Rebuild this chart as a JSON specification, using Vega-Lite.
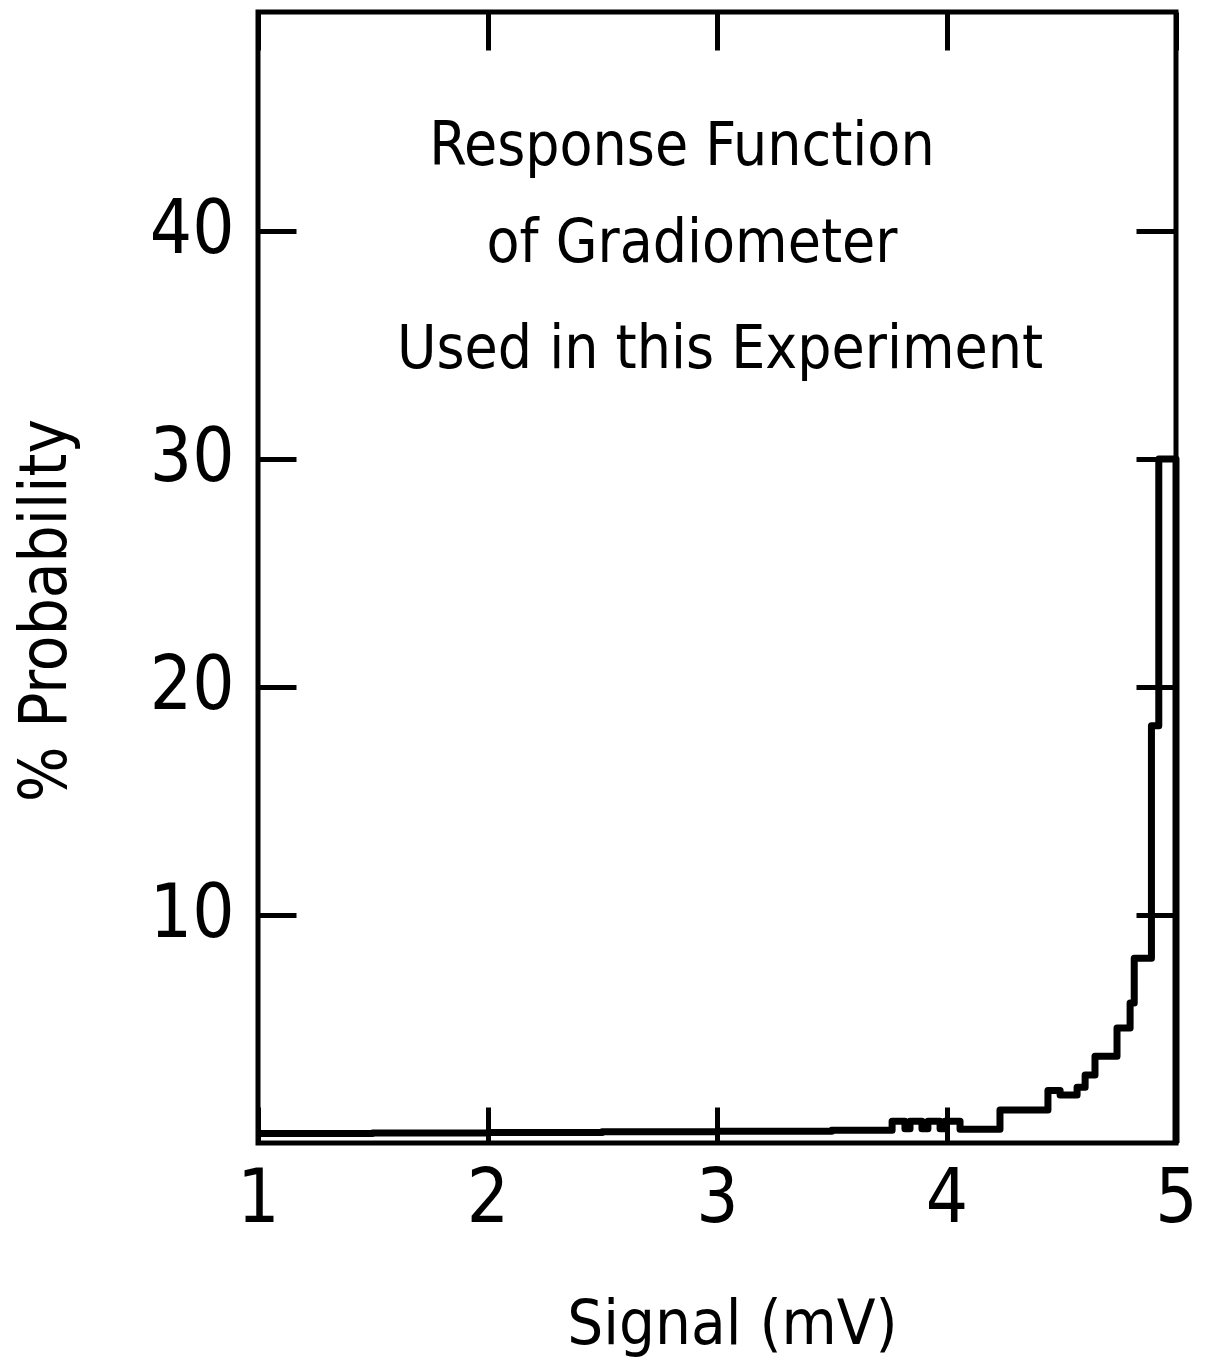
{
  "$schema": "https://vega.github.io/schema/vega-lite/v6.json",
  "width": 918,
  "height": 1131,
  "autosize": {"type": "none"},
  "padding": {"left": 258, "top": 12, "right": 35, "bottom": 223},
  "background": "white",
  "config": {
    "view": {"stroke": "black", "strokeWidth": 5},
    "axis": {
      "grid": false,
      "domain": false,
      "tickColor": "black",
      "tickWidth": 5,
      "labelColor": "black",
      "titleColor": "black",
      "labelFont": "DejaVu Sans Condensed, sans-serif",
      "titleFont": "DejaVu Sans Condensed, sans-serif",
      "labelFontWeight": "normal",
      "titleFontWeight": "normal"
    }
  },
  "layer": [
    {
      "data": {
        "values": [
          {"signal": 1.0, "pct": 0.42},
          {"signal": 1.5, "pct": 0.44},
          {"signal": 2.0, "pct": 0.46},
          {"signal": 2.5, "pct": 0.49},
          {"signal": 3.0, "pct": 0.52},
          {"signal": 3.5, "pct": 0.56},
          {"signal": 3.763, "pct": 0.95},
          {"signal": 3.819, "pct": 0.62},
          {"signal": 3.841, "pct": 0.95},
          {"signal": 3.893, "pct": 0.62},
          {"signal": 3.919, "pct": 0.95},
          {"signal": 3.972, "pct": 0.62},
          {"signal": 3.993, "pct": 0.95},
          {"signal": 4.059, "pct": 0.6},
          {"signal": 4.233, "pct": 1.45},
          {"signal": 4.442, "pct": 2.3},
          {"signal": 4.495, "pct": 2.1},
          {"signal": 4.569, "pct": 2.45},
          {"signal": 4.604, "pct": 2.98},
          {"signal": 4.647, "pct": 3.8},
          {"signal": 4.743, "pct": 5.04},
          {"signal": 4.8, "pct": 6.14},
          {"signal": 4.818, "pct": 8.1},
          {"signal": 4.893, "pct": 18.3},
          {"signal": 4.925, "pct": 30.0},
          {"signal": 5.0, "pct": 0}
        ]
      },
      "mark": {"type": "line", "interpolate": "step-after", "color": "black", "strokeWidth": 7, "strokeJoin": "round"},
      "encoding": {
        "x": {
          "field": "signal", "type": "quantitative",
          "scale": {"domain": [1, 5], "nice": false, "zero": false},
          "axis": {
            "orient": "bottom", "values": [1, 2, 3, 4, 5], "format": "d",
            "tickSize": -36, "labelPadding": 56, "labelFontSize": 74,
            "labelFlush": false, "labelOverlap": false,
            "title": "Signal (mV)", "titleFontSize": 63,
            "titleX": 474, "titleY": 200, "titleBaseline": "alphabetic"
          }
        },
        "y": {
          "field": "pct", "type": "quantitative",
          "scale": {"domain": [0, 49.6], "nice": false, "zero": false},
          "axis": {
            "orient": "left", "values": [10, 20, 30, 40], "format": "d",
            "tickSize": -38, "labelPadding": 62, "labelFontSize": 74,
            "labelOverlap": false,
            "title": "% Probability", "titleFontSize": 65,
            "titleX": -193, "titleY": 598, "titleBaseline": "alphabetic"
          }
        }
      }
    },
    {
      "data": {
        "values": [
          {"sx": 2.847, "py": 42.89, "label": "Response Function"},
          {"sx": 2.891, "py": 38.64, "label": "of Gradiometer"},
          {"sx": 3.013, "py": 33.99, "label": "Used in this Experiment"}
        ]
      },
      "mark": {"type": "text", "font": "DejaVu Sans Condensed, sans-serif", "fontSize": 60, "baseline": "alphabetic", "align": "center", "color": "black"},
      "encoding": {
        "x": {
          "field": "sx", "type": "quantitative",
          "scale": {"domain": [1, 5], "nice": false, "zero": false},
          "axis": {"orient": "top", "values": [1, 2, 3, 4, 5], "tickSize": -38, "labels": false, "title": null}
        },
        "y": {
          "field": "py", "type": "quantitative",
          "scale": {"domain": [0, 49.6], "nice": false, "zero": false},
          "axis": {"orient": "right", "values": [10, 20, 30, 40], "tickSize": -40, "labels": false, "title": null}
        },
        "text": {"field": "label"}
      }
    }
  ],
  "resolve": {"axis": {"x": "independent", "y": "independent"}}
}
